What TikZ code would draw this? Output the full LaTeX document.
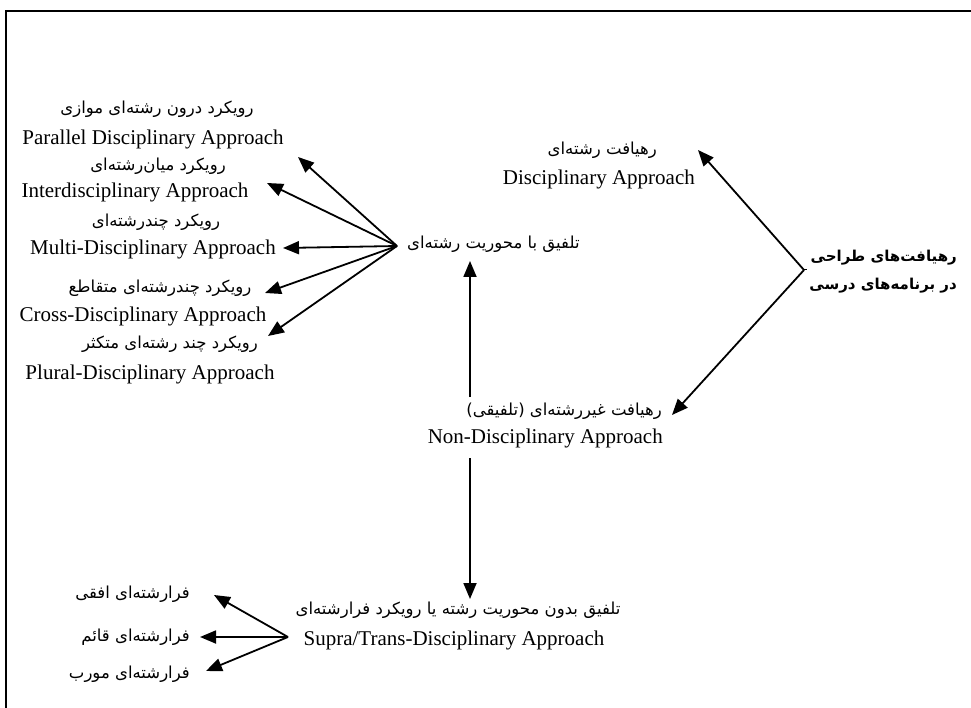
\documentclass[tikz,border=0pt]{standalone}
\usepackage{fontspec}
\setmainfont{Liberation Serif}
\newfontfamily\fa[Script=Arabic]{DejaVu Sans}
\TeXXeTstate=1
\usetikzlibrary{arrows.meta}
\newcommand{\FA}[1]{{\fa\beginR #1\endR}}
\begin{document}
\begin{tikzpicture}[x=1pt,y=-1pt,
  en/.style={font=\fontsize{21}{24}\selectfont, inner sep=0pt},
  fa/.style={font=\fontsize{16.5}{20}\fa, inner sep=0pt},
  arr/.style={line width=1.8pt, -{Triangle[length=16pt,width=13pt]}},
  frame/.style={line width=1.2pt}
]
\useasboundingbox (0,0) rectangle (971,708);
\draw[frame] (6,708) -- (6,11) -- (971,11);

% left column
\node[fa] (p1fa) at (157,109) {\FA{رویکرد درون رشته^^^^200cای موازی}};
\node[en] (p1en) at (153,139) {Parallel Disciplinary Approach};
\node[fa] (p2fa) at (158,166) {\FA{رویکرد میان^^^^200cرشته^^^^200cای}};
\node[en] (p2en) at (135,192) {Interdisciplinary Approach};
\node[fa] (p3fa) at (156,222) {\FA{رویکرد چندرشته^^^^200cای}};
\node[en] (p3en) at (153,249) {Multi-Disciplinary Approach};
\node[fa] (p4fa) at (160,288) {\FA{رویکرد چندرشته^^^^200cای متقاطع}};
\node[en] (p4en) at (143,316) {Cross-Disciplinary Approach};
\node[fa] (p5fa) at (170,344) {\FA{رویکرد چند رشته^^^^200cای متکثر}};
\node[en] (p5en) at (150,374) {Plural-Disciplinary Approach};

% hub A
\node[fa, anchor=west] (hubA) at (407,244) {\FA{تلفیق با محوریت رشته^^^^200cای}};
\coordinate (hubAp) at (397,246);
\coordinate (tA1) at (298,157);
\coordinate (tA2) at (267,183);
\coordinate (tA3) at (283,248);
\coordinate (tA4) at (265,293);
\coordinate (tA5) at (268,336);
\foreach \t in {tA1,tA2,tA3,tA4,tA5} \draw[arr] (hubAp) -- (\t);

% disciplinary
\node[fa, anchor=east] (dafa) at (657,150) {\FA{رهیافت رشته^^^^200cای}};
\node[en, anchor=east] (daen) at (695,179) {Disciplinary Approach};

% root
\node[fa, font=\fontsize{15}{28}\fa\bfseries, align=right, anchor=east] (root) at (957,272)
  {\FA{رهیافت^^^^200cهای طراحی}\\\FA{در برنامه^^^^200cهای درسی}};
\coordinate (rootp) at (804,270);
\draw[line width=1pt] (rootp) -- ++(3,0);
\coordinate (tDA) at (698,150);
\coordinate (tND) at (672,415);
\draw[arr] (rootp) -- (tDA);
\draw[arr] (rootp) -- (tND);

% non-disciplinary
\node[fa, anchor=east] (ndfa) at (662,411) {\FA{رهیافت غیررشته^^^^200cای (تلفیقی)}};
\node[en, anchor=east] (nden) at (663,438) {Non-Disciplinary Approach};
\coordinate (ndtop) at (470,397);
\coordinate (ndbot) at (470,458);
\coordinate (tup) at (470,261);
\coordinate (tdown) at (470,599);
\draw[arr] (ndtop) -- (tup);
\draw[arr] (ndbot) -- (tdown);

% supra
\node[fa] (sufa) at (458,610) {\FA{تلفیق بدون محوریت رشته یا رویکرد فرارشته^^^^200cای}};
\node[en] (suen) at (454,640) {Supra/Trans-Disciplinary Approach};
\coordinate (hubS) at (288,637);
\node[fa, anchor=east] (s1) at (190,594) {\FA{فرارشته^^^^200cای افقی}};
\node[fa, anchor=east] (s2) at (190,637) {\FA{فرارشته^^^^200cای قائم}};
\node[fa, anchor=east] (s3) at (190,674) {\FA{فرارشته^^^^200cای مورب}};
\coordinate (tS1) at (214,595);
\coordinate (tS2) at (200,637);
\coordinate (tS3) at (206,671);
\foreach \t in {tS1,tS2,tS3} \draw[arr] (hubS) -- (\t);
\end{tikzpicture}
\end{document}
